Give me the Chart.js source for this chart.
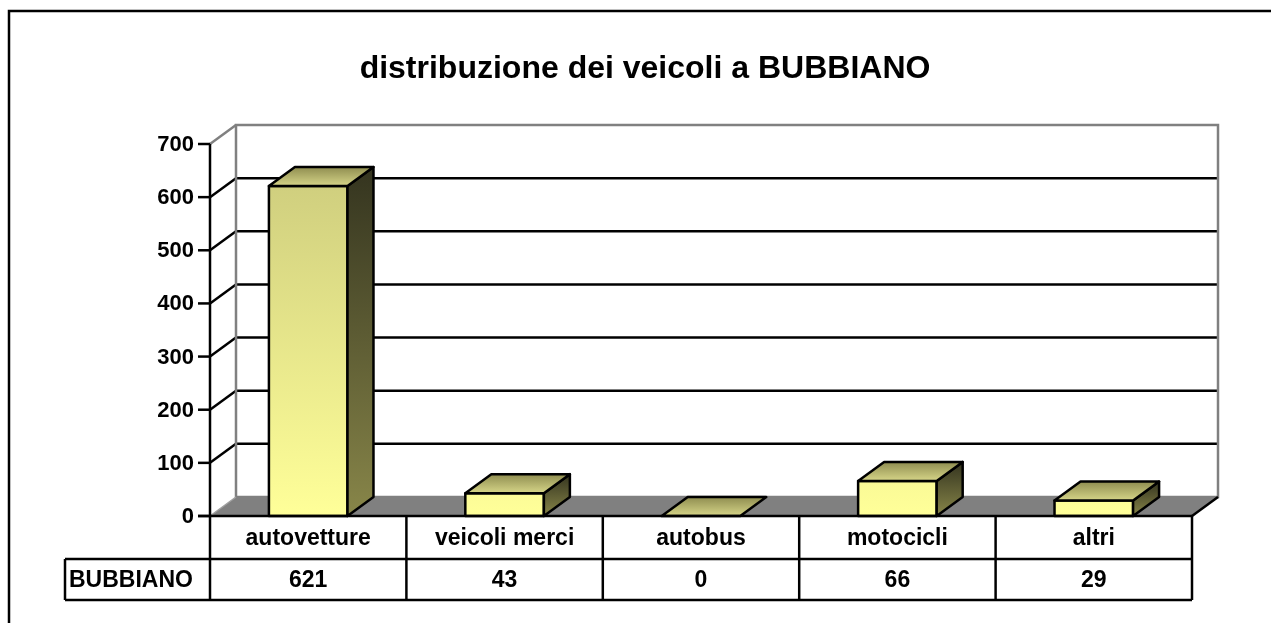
<!DOCTYPE html>
<html><head><meta charset="utf-8">
<script src="https://cdn.jsdelivr.net/npm/chart.js@4/dist/chart.umd.min.js"></script>
<style>html,body{margin:0;padding:0;background:#fff;overflow:hidden}canvas{display:block}</style>
</head><body>
<canvas id="c" width="1271" height="623"></canvas>
<script>
const chartTitle = 'distribuzione dei veicoli a BUBBIANO';
const seriesName = 'BUBBIANO';
const categories = ['autovetture', 'veicoli merci', 'autobus', 'motocicli', 'altri'];
const values = [621, 43, 0, 66, 29];
const yTicks = [0, 100, 200, 300, 400, 500, 600, 700];

const DX = 26, DY = -19;
const FONT = '"Liberation Sans", Arial, sans-serif';

function seg(ctx, x1, y1, x2, y2) { ctx.beginPath(); ctx.moveTo(x1, y1); ctx.lineTo(x2, y2); ctx.stroke(); }
function poly(ctx, pts, fill) {
  ctx.beginPath(); ctx.moveTo(pts[0][0], pts[0][1]);
  for (let i = 1; i < pts.length; i++) ctx.lineTo(pts[i][0], pts[i][1]);
  ctx.closePath(); ctx.fillStyle = fill; ctx.fill();
  ctx.strokeStyle = '#000'; ctx.lineWidth = 2.5; ctx.lineJoin = 'round'; ctx.stroke();
}

const excel3d = {
  id: 'excel3d',
  beforeDraw(chart) {
    const ctx = chart.ctx, ys = chart.scales.y;
    const L = chart.chartArea.left, R = chart.chartArea.right;
    const T = ys.getPixelForValue(yTicks[yTicks.length - 1]), B = ys.getPixelForValue(0);
    ctx.save();
    ctx.fillStyle = '#fff'; ctx.fillRect(0, 0, chart.width, chart.height);
    ctx.strokeStyle = '#000'; ctx.lineWidth = 2.5; ctx.strokeRect(9, 11, 1300, 700);
    ctx.fillStyle = '#000'; ctx.font = 'bold 32px ' + FONT; ctx.textAlign = 'center'; ctx.textBaseline = 'alphabetic';
    ctx.fillText(chartTitle, 645, 78);
    // floor
    ctx.beginPath(); ctx.moveTo(L, B); ctx.lineTo(R, B); ctx.lineTo(R + DX, B + DY); ctx.lineTo(L + DX, B + DY); ctx.closePath();
    ctx.fillStyle = '#808080'; ctx.fill();
    // gridlines
    ctx.strokeStyle = '#000'; ctx.lineWidth = 2.5;
    yTicks.forEach(v => {
      if (v === 0 || v === yTicks[yTicks.length - 1]) return;
      const py = ys.getPixelForValue(v);
      seg(ctx, L + DX, py + DY, R + DX, py + DY);
      seg(ctx, L, py, L + DX, py + DY);
    });
    // wall borders
    ctx.strokeStyle = '#808080'; ctx.lineWidth = 2.5;
    ctx.strokeRect(L + DX, T + DY, R - L, B - T);
    seg(ctx, L, T, L + DX, T + DY);
    ctx.strokeStyle = '#a0a0a0'; ctx.lineWidth = 1.5;
    seg(ctx, L, B, L + DX, B + DY);
    ctx.strokeStyle = '#000'; ctx.lineWidth = 2.5;
    seg(ctx, R, B, R + DX, B + DY);
    // left axis
    seg(ctx, L, T, L, B);
    ctx.font = 'bold 22px ' + FONT; ctx.textAlign = 'right'; ctx.textBaseline = 'middle'; ctx.fillStyle = '#000';
    yTicks.forEach(v => {
      const py = ys.getPixelForValue(v);
      seg(ctx, L - 12, py, L, py);
      ctx.fillText(String(v), L - 16, py + 1);
    });
    ctx.restore();
  },
  afterDatasetsDraw(chart) {
    const ctx = chart.ctx, ys = chart.scales.y, xs = chart.scales.x;
    const T = ys.getPixelForValue(yTicks[yTicks.length - 1]), B = ys.getPixelForValue(0);
    const meta = chart.getDatasetMeta(0);
    ctx.save();
    meta.data.forEach(el => {
      const p = el.getProps(['x', 'y', 'base', 'width'], true);
      const l = p.x - p.width / 2, r = p.x + p.width / 2, t = p.y, b = p.base;
      if (b - t > 0.5) {
        const gf = ctx.createLinearGradient(0, T, 0, B);
        gf.addColorStop(0, '#CAC97B'); gf.addColorStop(1, '#FFFF99');
        poly(ctx, [[l, t], [r, t], [r, b], [l, b]], gf);
        const gs = ctx.createLinearGradient(0, t + DY, 0, b);
        gs.addColorStop(0, '#34341F'); gs.addColorStop(1, '#888649');
        poly(ctx, [[r, b], [r, t], [r + DX, t + DY], [r + DX, b + DY]], gs);
      }
      const gt = ctx.createLinearGradient(0, t + DY, 0, t);
      gt.addColorStop(0, '#8F8D50'); gt.addColorStop(1, '#D6D588');
      poly(ctx, [[l, t], [r, t], [r + DX, t + DY], [l + DX, t + DY]], gt);
    });
    // data table
    const L = chart.chartArea.left, R = chart.chartArea.right;
    const cw = (R - L) / categories.length;
    const r1 = B, r2 = B + 43, r3 = B + 84;
    ctx.strokeStyle = '#000'; ctx.lineWidth = 2.5;
    seg(ctx, L - 12, r1, R, r1);
    seg(ctx, 65, r2, R, r2);
    seg(ctx, 65, r3, R, r3);
    seg(ctx, 65, r2, 65, r3);
    for (let i = 0; i <= categories.length; i++) {
      const px = i < categories.length ? xs.getPixelForValue(i) - cw / 2 : xs.getPixelForValue(i - 1) + cw / 2;
      seg(ctx, px, r1, px, r3);
    }
    ctx.fillStyle = '#000'; ctx.font = 'bold 23px ' + FONT; ctx.textAlign = 'center'; ctx.textBaseline = 'middle';
    categories.forEach((c, i) => {
      const px = xs.getPixelForValue(i);
      ctx.fillText(c, px, (r1 + r2) / 2 + 1);
      ctx.fillText(String(values[i]), px, (r2 + r3) / 2 + 1);
    });
    ctx.textAlign = 'left';
    ctx.fillText(seriesName, 69, (r2 + r3) / 2 + 1);
    ctx.restore();
  }
};

new Chart(document.getElementById('c'), {
  type: 'bar',
  data: {
    labels: categories,
    datasets: [{
      label: seriesName,
      data: values,
      backgroundColor: 'rgba(0,0,0,0)',
      borderWidth: 0,
      barPercentage: 0.4,
      categoryPercentage: 1.0
    }]
  },
  options: {
    responsive: false,
    animation: false,
    devicePixelRatio: 1,
    layout: { padding: { left: 210, right: 79, top: 144, bottom: 107 } },
    plugins: { legend: { display: false }, title: { display: false }, tooltip: { enabled: false } },
    scales: {
      x: { display: false, offset: true },
      y: { display: false, min: 0, max: 700 }
    }
  },
  plugins: [excel3d]
});
</script>
</body></html>
